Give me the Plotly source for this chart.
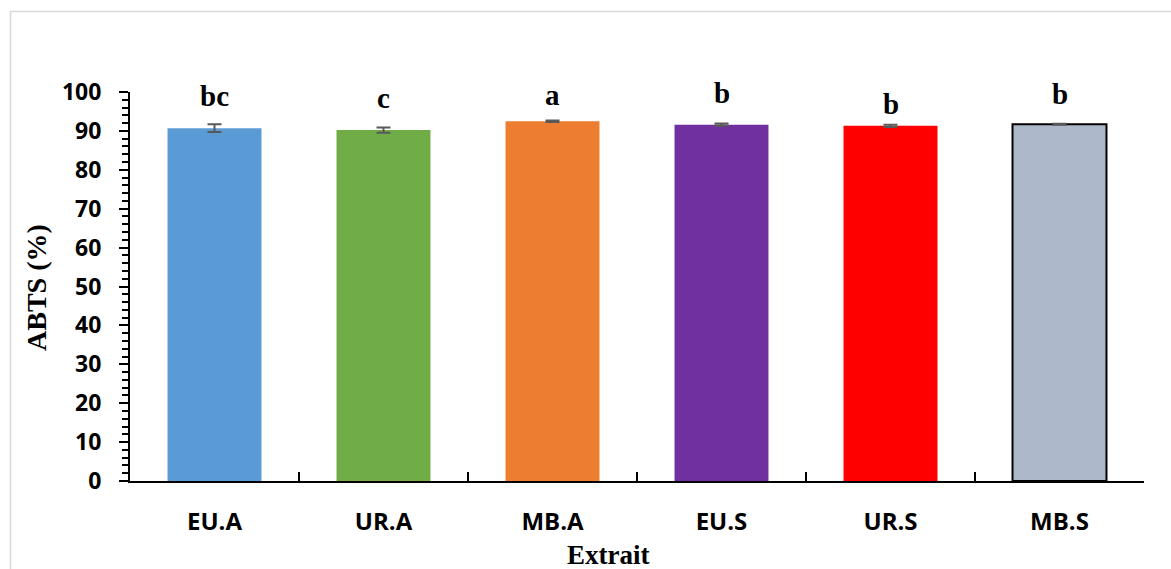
import plotly.graph_objects as go

# ABTS radical scavenging activity per extract
extraits = ["EU.A", "UR.A", "MB.A", "EU.S", "UR.S", "MB.S"]
abts = [90.7, 90.2, 92.5, 91.6, 91.3, 91.7]
abts_err = [1.0, 0.7, 0.2, 0.3, 0.3, 0.15]
groupes = ["bc", "c", "a", "b", "b", "b"]
couleurs = ["#5b9bd5", "#70ad47", "#ed7d31", "#7030a0", "#ff0000", "#adb9ca"]
contours = [0, 0, 0, 0, 0, 2]
y_ticks = [0, 10, 20, 30, 40, 50, 60, 70, 80, 90, 100]

fig = go.Figure()
fig.add_trace(go.Bar(
    x=extraits,
    y=abts,
    marker=dict(color=couleurs, line=dict(color="black", width=contours)),
    error_y=dict(type="data", array=abts_err, visible=True,
                 color="#595959", thickness=2, width=7),
    showlegend=False,
))

# significance letters above each bar
lettre_y = [96.4, 95.9, 96.7, 97.2, 94.3, 97.0]
for cat, lettre, ly in zip(extraits, groupes, lettre_y):
    fig.add_annotation(
        x=cat, y=ly, text=lettre, showarrow=False,
        xref="x", yref="y", yanchor="bottom", yshift=-8,
        font=dict(family="Liberation Serif", size=29, color="black", weight="bold"),
    )

W, H = 1171, 569
L, R, T, B = 130, 27, 92, 88
pw, ph = W - L - R, H - T - B

def px_x(px):
    return (px - L) / pw

def px_y(py):
    return (H - B - py) / ph

fig.add_annotation(
    x=px_x(608), y=px_y(555), xref="paper", yref="paper",
    text="Extrait", showarrow=False, xanchor="center", yanchor="middle",
    font=dict(family="Liberation Serif", size=27, color="black", weight="bold"),
)
fig.add_annotation(
    x=px_x(36), y=px_y(288), xref="paper", yref="paper",
    text="ABTS (%)", showarrow=False, textangle=-90,
    xanchor="center", yanchor="middle",
    font=dict(family="Liberation Serif", size=28, color="black", weight="bold"),
)

# chart frame
fig.add_shape(
    type="rect", xref="paper", yref="paper",
    x0=px_x(10.5), x1=px_x(1190), y0=px_y(600), y1=px_y(11.5),
    line=dict(color="#d9d9d9", width=1.5), fillcolor="rgba(0,0,0,0)",
    layer="below",
)

fig.update_layout(
    width=W, height=H,
    margin=dict(l=L, r=R, t=T, b=B),
    paper_bgcolor="white", plot_bgcolor="white",
    bargap=0.444,
    font=dict(family="Open Sans", color="black"),
)
fig.update_xaxes(
    showline=True, linecolor="black", linewidth=2,
    ticks="inside", tickson="boundaries", ticklen=9, tickwidth=2, tickcolor="black",
    tickfont=dict(family="Open Sans", size=24, color="black", weight="bold"),
    ticklabelstandoff=18,
    showgrid=False, zeroline=False,
)
fig.update_yaxes(
    range=[0, 100], tickvals=y_ticks,
    showline=True, linecolor="black", linewidth=2,
    ticks="outside", ticklen=9, tickwidth=2, tickcolor="black",
    minor=dict(dtick=2, ticks="outside", ticklen=6, tickwidth=2, tickcolor="black"),
    tickfont=dict(family="Open Sans", size=23, color="black", weight="bold"),
    ticklabelstandoff=13,
    showgrid=False, zeroline=False,
)

fig.write_html("out.html")
